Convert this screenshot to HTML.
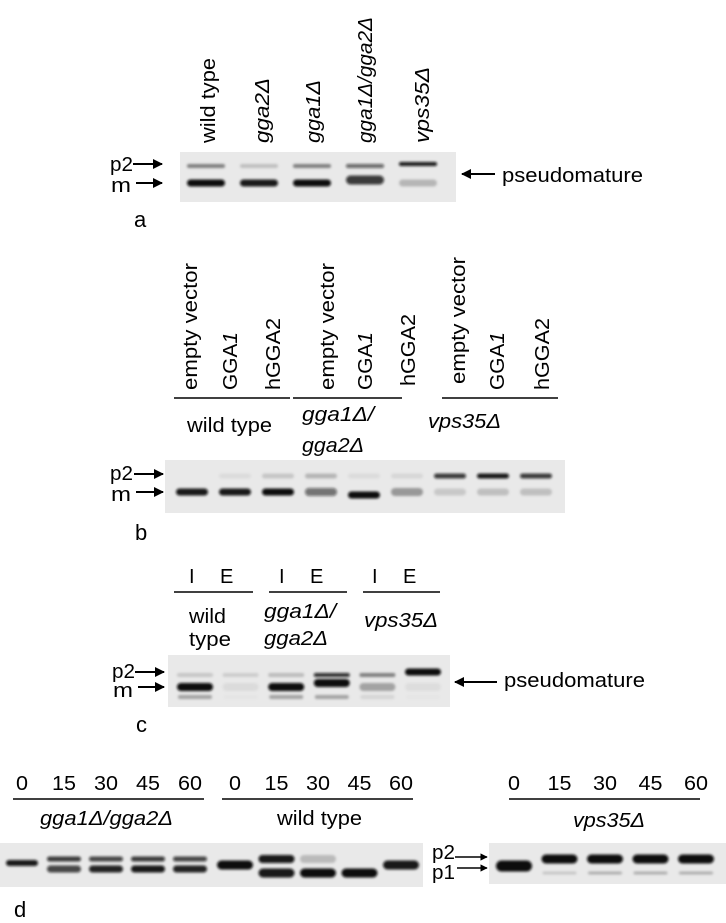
<!DOCTYPE html>
<html><head><meta charset="utf-8"><title>Gel figure</title>
<style>
html,body{margin:0;padding:0;background:#fff;}
svg{display:block;}
text{font-family:"Liberation Sans",Arial,sans-serif;fill:#000;}
.it{font-style:italic;}
</style></head>
<body>
<svg id="fig" width="726" height="923" viewBox="0 0 726 923" xmlns="http://www.w3.org/2000/svg">
<defs>
<filter id="blur" x="-30%" y="-100%" width="160%" height="300%"><feGaussianBlur stdDeviation="1.3"/></filter>
<marker id="ah" viewBox="0 0 10 10" refX="9" refY="5" markerWidth="5" markerHeight="5" orient="auto"><path d="M0,0 L10,5 L0,10 z" fill="#000"/></marker>
</defs>

<!-- Panel a -->
<g>
<g font-size="20">
<text transform="translate(215,143) rotate(-90)" textLength="85" lengthAdjust="spacingAndGlyphs">wild type</text>
<text class="it" transform="translate(269,143) rotate(-90)" textLength="65" lengthAdjust="spacingAndGlyphs">gga2Δ</text>
<text class="it" transform="translate(320,143) rotate(-90)" textLength="63" lengthAdjust="spacingAndGlyphs">gga1Δ</text>
<text class="it" transform="translate(372,143) rotate(-90)" textLength="126" lengthAdjust="spacingAndGlyphs">gga1Δ/gga2Δ</text>
<text class="it" transform="translate(429,143) rotate(-90)" textLength="76" lengthAdjust="spacingAndGlyphs">vps35Δ</text>
</g>
<rect x="180" y="152" width="276" height="50" fill="#e9e9e9"/>
<g id="bands-a"></g>
<text x="110" y="171" font-size="20" textLength="23" lengthAdjust="spacingAndGlyphs">p2</text>
<text x="111" y="192" font-size="20" textLength="20" lengthAdjust="spacingAndGlyphs">m</text>
<line x1="133" y1="164" x2="162" y2="164" stroke="#000" stroke-width="2" marker-end="url(#ah)"/>
<line x1="136" y1="183" x2="162" y2="183" stroke="#000" stroke-width="2" marker-end="url(#ah)"/>
<line x1="495" y1="174" x2="462" y2="174" stroke="#000" stroke-width="2" marker-end="url(#ah)"/>
<text x="502" y="182" font-size="20" textLength="141" lengthAdjust="spacingAndGlyphs">pseudomature</text>
<text x="134" y="227" font-size="22">a</text>
</g>

<!-- Panel b -->
<g>
<g font-size="20">
<text transform="translate(197,390) rotate(-90)" textLength="127" lengthAdjust="spacingAndGlyphs">empty vector</text>
<text transform="translate(237,390) rotate(-90)" textLength="58" lengthAdjust="spacingAndGlyphs">GGA<tspan class="it">1</tspan></text>
<text transform="translate(280,390) rotate(-90)" textLength="72" lengthAdjust="spacingAndGlyphs">hGGA2</text>
<text transform="translate(334,390) rotate(-90)" textLength="127" lengthAdjust="spacingAndGlyphs">empty vector</text>
<text transform="translate(372,390) rotate(-90)" textLength="58" lengthAdjust="spacingAndGlyphs">GGA<tspan class="it">1</tspan></text>
<text transform="translate(415,386) rotate(-90)" textLength="72" lengthAdjust="spacingAndGlyphs">hGGA2</text>
<text transform="translate(465,384) rotate(-90)" textLength="127" lengthAdjust="spacingAndGlyphs">empty vector</text>
<text transform="translate(504,390) rotate(-90)" textLength="58" lengthAdjust="spacingAndGlyphs">GGA<tspan class="it">1</tspan></text>
<text transform="translate(549,390) rotate(-90)" textLength="72" lengthAdjust="spacingAndGlyphs">hGGA2</text>
</g>
<line x1="174" y1="398" x2="290" y2="398" stroke="#000" stroke-width="1.5"/>
<line x1="293" y1="398" x2="402" y2="398" stroke="#000" stroke-width="1.5"/>
<line x1="442" y1="398" x2="558" y2="398" stroke="#000" stroke-width="1.5"/>
<text x="187" y="432" font-size="20" textLength="85" lengthAdjust="spacingAndGlyphs">wild type</text>
<text class="it" x="302" y="421" font-size="20" textLength="72" lengthAdjust="spacingAndGlyphs">gga1Δ/</text>
<text class="it" x="302" y="452" font-size="20" textLength="62" lengthAdjust="spacingAndGlyphs">gga2Δ</text>
<text class="it" x="428" y="428" font-size="20" textLength="73" lengthAdjust="spacingAndGlyphs">vps35Δ</text>
<rect x="165" y="460" width="400" height="53" fill="#e9e9e9"/>
<g id="bands-b"></g>
<text x="110" y="480" font-size="20" textLength="23" lengthAdjust="spacingAndGlyphs">p2</text>
<text x="111" y="501" font-size="20" textLength="20" lengthAdjust="spacingAndGlyphs">m</text>
<line x1="134" y1="474" x2="163" y2="474" stroke="#000" stroke-width="2" marker-end="url(#ah)"/>
<line x1="136" y1="492" x2="163" y2="492" stroke="#000" stroke-width="2" marker-end="url(#ah)"/>
<text x="135" y="540" font-size="22">b</text>
</g>

<!-- Panel c -->
<g>
<g font-size="20">
<text x="189" y="583">I</text>
<text x="220" y="583">E</text>
<text x="279" y="583">I</text>
<text x="310" y="583">E</text>
<text x="372" y="583">I</text>
<text x="403" y="583">E</text>
</g>
<line x1="174" y1="592" x2="253" y2="592" stroke="#000" stroke-width="1.5"/>
<line x1="269" y1="592" x2="347" y2="592" stroke="#000" stroke-width="1.5"/>
<line x1="363" y1="592" x2="440" y2="592" stroke="#000" stroke-width="1.5"/>
<text x="189" y="623" font-size="20" textLength="37" lengthAdjust="spacingAndGlyphs">wild</text>
<text x="189" y="646" font-size="20" textLength="42" lengthAdjust="spacingAndGlyphs">type</text>
<text class="it" x="264" y="618" font-size="20" textLength="72" lengthAdjust="spacingAndGlyphs">gga1Δ/</text>
<text class="it" x="264" y="645" font-size="20" textLength="64" lengthAdjust="spacingAndGlyphs">gga2Δ</text>
<text class="it" x="364" y="627" font-size="20" textLength="74" lengthAdjust="spacingAndGlyphs">vps35Δ</text>
<rect x="168" y="655" width="282" height="52" fill="#e9e9e9"/>
<g id="bands-c"></g>
<text x="112" y="678" font-size="20" textLength="23" lengthAdjust="spacingAndGlyphs">p2</text>
<text x="113" y="697" font-size="20" textLength="20" lengthAdjust="spacingAndGlyphs">m</text>
<line x1="135" y1="672" x2="164" y2="672" stroke="#000" stroke-width="2" marker-end="url(#ah)"/>
<line x1="138" y1="687" x2="164" y2="687" stroke="#000" stroke-width="2" marker-end="url(#ah)"/>
<line x1="497" y1="682" x2="455" y2="682" stroke="#000" stroke-width="2" marker-end="url(#ah)"/>
<text x="504" y="687" font-size="20" textLength="141" lengthAdjust="spacingAndGlyphs">pseudomature</text>
<text x="136" y="732" font-size="22">c</text>
</g>

<!-- Panel d -->
<g>
<g id="d-ticks" font-size="20"></g>
<line x1="13" y1="799" x2="204" y2="799" stroke="#000" stroke-width="1.5"/>
<line x1="222" y1="799" x2="413" y2="799" stroke="#000" stroke-width="1.5"/>
<line x1="509" y1="799" x2="700" y2="799" stroke="#000" stroke-width="1.5"/>
<text class="it" x="40" y="825" font-size="20" textLength="133" lengthAdjust="spacingAndGlyphs">gga1Δ/gga2Δ</text>
<text x="277" y="825" font-size="20" textLength="85" lengthAdjust="spacingAndGlyphs">wild type</text>
<text class="it" x="573" y="827" font-size="20" textLength="72" lengthAdjust="spacingAndGlyphs">vps35Δ</text>
<rect x="0" y="843" width="423" height="44" fill="#e9e9e9"/>
<rect x="489" y="843" width="237" height="41" fill="#e9e9e9"/>
<g id="bands-d"></g>
<text x="432" y="859" font-size="20" textLength="23" lengthAdjust="spacingAndGlyphs">p2</text>
<text x="432" y="879" font-size="20" textLength="23" lengthAdjust="spacingAndGlyphs">p1</text>
<line x1="455" y1="857" x2="487" y2="857" stroke="#000" stroke-width="1.5" marker-end="url(#ah)"/>
<line x1="457" y1="868" x2="487" y2="868" stroke="#000" stroke-width="1.5" marker-end="url(#ah)"/>
<text x="14" y="917" font-size="22">d</text>
</g>
</svg>

<script>
// Panel a: band intensities (0..1) per lane
const aLanes = ['wild type','gga2Δ','gga1Δ','gga1Δ/gga2Δ','vps35Δ'];
const aP2 = [0.45, 0.18, 0.45, 0.6, 0.95];
const aM  = [1.0, 0.95, 1.0, 0.8, 0.22];
// Panel b
const bLanes = ['wt-ev','wt-GGA1','wt-hGGA2','gga-ev','gga-GGA1','gga-hGGA2','vps-ev','vps-GGA1','vps-hGGA2'];
const bP2 = [0.0, 0.06, 0.15, 0.22, 0.06, 0.08, 0.8, 0.95, 0.8];
const bM  = [0.95, 0.95, 1.0, 0.55, 1.0, 0.35, 0.14, 0.18, 0.18];
// Panel c
const cLanes = ['wt-I','wt-E','gga-I','gga-E','vps-I','vps-E'];
const cP2 = [0.15, 0.12, 0.2, 0.85, 0.45, 1.0];
const cM  = [1.0, 0.06, 1.0, 1.0, 0.3, 0.05];
// Panel d
const dTimes = ['0','15','30','45','60'];
const dGgaP2 = [0.0, 0.8, 0.75, 0.8, 0.75];
const dGgaP1 = [0.0, 0.75, 0.9, 0.95, 0.9];
const dGgaMid = [0.95, 0, 0, 0, 0];
const dWtP2 = [0.0, 0.95, 0.2, 0.0, 0.0];
const dWtP1 = [0.0, 0.95, 1.0, 1.0, 0.0];
const dWtMid = [1.0, 0, 0, 0, 0.95];
const dVpsP2 = [0.0, 1.0, 1.0, 1.0, 1.0];
const dVpsP1 = [0.0, 0.15, 0.25, 0.25, 0.25];
const dVpsMid = [1.0, 0, 0, 0, 0];

const NS = 'http://www.w3.org/2000/svg';
function lane(x0, step){ return i => x0 + i*step; }
function band(g, cx, cy, w, h, v){
  if (v <= 0.01) return;
  const r = document.createElementNS(NS,'rect');
  r.setAttribute('x', cx - w/2); r.setAttribute('y', cy - h/2);
  r.setAttribute('width', w); r.setAttribute('height', h);
  r.setAttribute('rx', h/2);
  r.setAttribute('fill', '#0c0c0c');
  r.setAttribute('fill-opacity', Math.min(1, v));
  r.setAttribute('filter', 'url(#blur)');
  
  
  g.appendChild(r);
}
// a
(function(){
  const g = document.getElementById('bands-a');
  const X = lane(206, 53);
  aLanes.forEach((n,i)=>{
    band(g, X(i), i===4?164:166, 38, 4, aP2[i]);
    band(g, X(i), i===3?180:183, 38, i===3?9:7, aM[i]);
  });
})();
// b
(function(){
  const g = document.getElementById('bands-b');
  const X = lane(192, 43);
  bLanes.forEach((n,i)=>{
    band(g, X(i), 476, 32, 5, bP2[i]);
    band(g, X(i), i===4?495:492, 32, (i===3||i===5)?8:7, bM[i]);
  });
})();
// c
(function(){
  const g = document.getElementById('bands-c');
  const X = lane(195, 45.6);
  cLanes.forEach((n,i)=>{
    band(g, X(i), i===5?672:675, 36, i===5?7:4, cP2[i]);
    band(g, X(i), i===3?683:687, 36, 8, cM[i]);
    band(g, X(i), 697, 34, 4, cM[i]*0.3);
  });
})();
// d
(function(){
  const g = document.getElementById('bands-d');
  const t = document.getElementById('d-ticks');
  const XL = lane(22, 42), XW = lane(235, 41.5), XV = lane(514, 45.5);
  function tick(x, s){
    const e = document.createElementNS(NS,'text');
    e.setAttribute('x', x); e.setAttribute('y', 790);
    e.setAttribute('text-anchor','middle');
    e.setAttribute('textLength', s.length*12);
    e.setAttribute('lengthAdjust','spacingAndGlyphs');
    e.textContent = s;
    
    
    t.appendChild(e);
  }
  dTimes.forEach((s,i)=>{
    tick(XL(i), s); tick(XW(i), s); tick(XV(i), s);
    band(g, XL(i), 859, 34, 5, dGgaP2[i]);
    band(g, XL(i), 869, 34, 7, dGgaP1[i]);
    band(g, XL(i), 863, 32, 6, dGgaMid[i]);
    band(g, XW(i), 859, 36, 8, dWtP2[i]);
    band(g, XW(i), 873, 36, 9, dWtP1[i]);
    band(g, XW(i), 865, 36, 9, dWtMid[i]);
    band(g, XV(i), 859, 36, 9, dVpsP2[i]);
    band(g, XV(i), 873, 34, 3, dVpsP1[i]);
    band(g, XV(i), 866, 36, 11, dVpsMid[i]);
  });
})();
</script>
</body></html>
